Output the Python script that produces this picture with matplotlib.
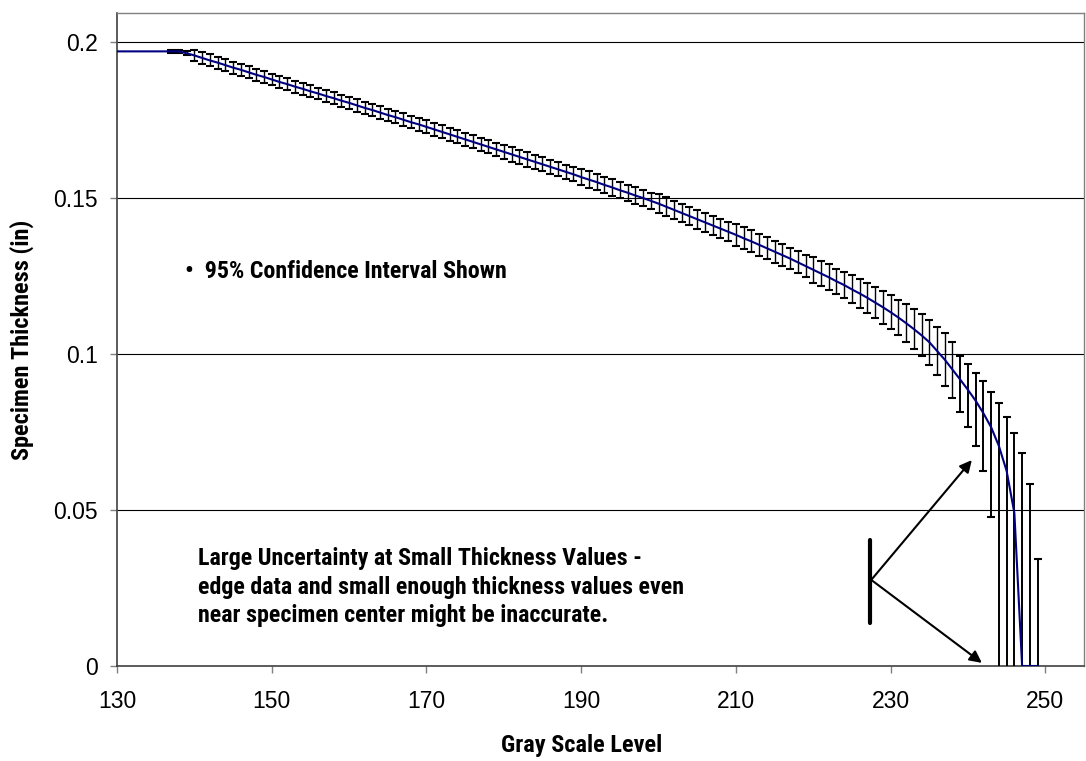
import matplotlib
matplotlib.use("Agg")
import matplotlib.pyplot as plt
import numpy as np

# gray scale levels and fitted thickness (in)
gray = list(range(130, 250))
thickness = [
    0.1970, 0.1970, 0.1970, 0.1970, 0.1970, 0.1970, 0.1970, 0.1970, 0.1970,
    0.1964, 0.1957, 0.1949, 0.1941, 0.1934, 0.1926, 0.1918, 0.1911, 0.1903, 0.1895, 0.1888,
    0.1880, 0.1872, 0.1865, 0.1857, 0.1850, 0.1842, 0.1835, 0.1827, 0.1820, 0.1812,
    0.1805, 0.1797, 0.1789, 0.1782, 0.1774, 0.1766, 0.1759, 0.1751, 0.1743, 0.1736,
    0.1728, 0.1720, 0.1712, 0.1704, 0.1696, 0.1688, 0.1680, 0.1672, 0.1664, 0.1656,
    0.1648, 0.1640, 0.1632, 0.1624, 0.1616, 0.1608, 0.1600, 0.1592, 0.1584, 0.1576,
    0.1567, 0.1559, 0.1551, 0.1542, 0.1534, 0.1525, 0.1517, 0.1508, 0.1500, 0.1491,
    0.1482, 0.1472, 0.1462, 0.1452, 0.1442, 0.1432, 0.1422, 0.1412, 0.1402, 0.1392,
    0.1382, 0.1371, 0.1361, 0.1350, 0.1339, 0.1328, 0.1317, 0.1306, 0.1294, 0.1282,
    0.1270, 0.1258, 0.1246, 0.1233, 0.1221, 0.1207, 0.1194, 0.1180, 0.1165, 0.1150,
    0.1134, 0.1117, 0.1099, 0.1080, 0.1060, 0.1038, 0.1010, 0.0982, 0.0950, 0.0918,
    0.0885, 0.0850, 0.0810, 0.0765, 0.0705, 0.0625, 0.0490, 0.0000, 0.0000, 0.0000,
]

# 95% CI half widths, levels 137-238
ci_gray = list(range(137, 239))
ci_half = [
    0.0004, 0.0005, 0.0006,
    0.0019, 0.0019, 0.0019, 0.0019, 0.0019, 0.0019, 0.0019, 0.0019, 0.0019, 0.0019,
    0.0019, 0.0019, 0.0019, 0.0019, 0.0019, 0.0019, 0.0019, 0.0019, 0.0019, 0.0019,
    0.0020, 0.0020, 0.0020, 0.0020, 0.0020, 0.0020, 0.0020, 0.0020, 0.0020, 0.0020,
    0.0021, 0.0021, 0.0021, 0.0021, 0.0021, 0.0021, 0.0021, 0.0021, 0.0021, 0.0021,
    0.0023, 0.0023, 0.0023, 0.0023, 0.0023, 0.0023, 0.0023, 0.0023, 0.0023, 0.0023,
    0.0026, 0.0026, 0.0026, 0.0026, 0.0026, 0.0026, 0.0026, 0.0026, 0.0026, 0.0026,
    0.0030, 0.0030, 0.0030, 0.0030, 0.0030, 0.0030, 0.0030, 0.0030, 0.0030, 0.0030,
    0.0035, 0.0035, 0.0035, 0.0035, 0.0035, 0.0035, 0.0035, 0.0035, 0.0035, 0.0035,
    0.0041, 0.0041, 0.0041, 0.0041, 0.0041,
    0.0045, 0.0047, 0.0049, 0.0051, 0.0053, 0.0055, 0.0057, 0.0060, 0.0063, 0.0067,
    0.0072, 0.0077, 0.0084, 0.0090,
]

# CI limits for the last levels (239-249), where it blows up
tail_gray = list(range(239, 250))
tail_top = [0.0994, 0.0968, 0.0940, 0.0913, 0.0879, 0.0843, 0.0799, 0.0748, 0.0682, 0.0583, 0.0343]
tail_bottom = [0.0814, 0.0766, 0.0705, 0.0625, 0.0478, -0.0100, -0.0200, -0.0300, -0.0682, -0.0583, -0.0343]

xticks = [130, 150, 170, 190, 210, 230, 250]
yticks = [0, 0.05, 0.1, 0.15, 0.2]
yticklabels = ["0", "0.05", "0.1", "0.15", "0.2"]

plt.rcParams['font.family'] = ['Liberation Sans', 'DejaVu Sans']
bold_font = ['Roboto Condensed', 'Liberation Sans', 'DejaVu Sans']

fig = plt.figure(figsize=(10.86, 7.61), dpi=100)
ax = fig.add_axes([117 / 1086, 95 / 761, 967 / 1086, 653 / 761])

lookup = dict(zip(gray, thickness))
mid = np.array([lookup[g] for g in ci_gray])
half = np.array(ci_half)
ax.errorbar(ci_gray, mid, yerr=half, fmt='none', ecolor='black',
            elinewidth=1.0, capsize=2.9, capthick=1.5, zorder=3)

t_top = np.array(tail_top)
t_bot = np.array(tail_bottom)
t_mid = (t_top + t_bot) / 2
ax.errorbar(tail_gray, t_mid, yerr=[t_mid - t_bot, t_top - t_mid], fmt='none',
            ecolor='black', elinewidth=1.4, capsize=2.9, capthick=1.5, zorder=3)

ax.plot(gray, thickness, color='#000080', lw=1.5, zorder=4)

ax.set_xlim(130, 255)
ax.set_ylim(0, 0.2093)
ax.set_xticks(xticks)
ax.set_yticks(yticks)
ax.set_yticklabels(yticklabels)
ax.tick_params(axis='both', direction='out', length=5, width=1, color='#808080',
               labelsize=16.5)
ax.tick_params(axis='y', pad=9)
ax.tick_params(axis='x', pad=12)

for y in yticks[1:]:
    ax.axhline(y, color='black', lw=0.8, zorder=1)

for side in ['top', 'right']:
    ax.spines[side].set_color('#808080')
    ax.spines[side].set_linewidth(1.0)
for side in ['left', 'bottom']:
    ax.spines[side].set_color('#404040')
    ax.spines[side].set_linewidth(1.2)

ax.set_xlabel("Gray Scale Level", fontsize=17.5, fontweight='bold', family=bold_font, va='center')
ax.xaxis.set_label_coords(0.48, -0.121)
ax.set_ylabel("Specimen Thickness (in)", fontsize=17.5, fontweight='bold', family=bold_font, va='center')
ax.yaxis.set_label_coords(-0.098, 0.5)

ax.text(138.8, 0.1263, "\u2022  95% Confidence Interval Shown", fontsize=17.3, fontweight='bold',
        family=bold_font, va='center', ha='left')
ax.text(140.5, 0.0253,
        "Large Uncertainty at Small Thickness Values -\n"
        "edge data and small enough thickness values even\n"
        "near specimen center might be inaccurate.",
        fontsize=17.3, fontweight='bold', family=bold_font, va='center', ha='left',
        linespacing=1.3)

# bracket with two arrows pointing at the wide intervals
ax.plot([227.4, 227.4], [0.0138, 0.0404], color='black', lw=3, solid_capstyle='round', zorder=5)
for tip in [(240.5, 0.066), (241.8, 0.001)]:
    ax.annotate("", xy=tip, xytext=(227.5, 0.0276),
                arrowprops=dict(arrowstyle='-|>', color='black', lw=1.5,
                                mutation_scale=18, shrinkA=0, shrinkB=0),
                zorder=5)

fig.savefig("out.png", dpi=100)
